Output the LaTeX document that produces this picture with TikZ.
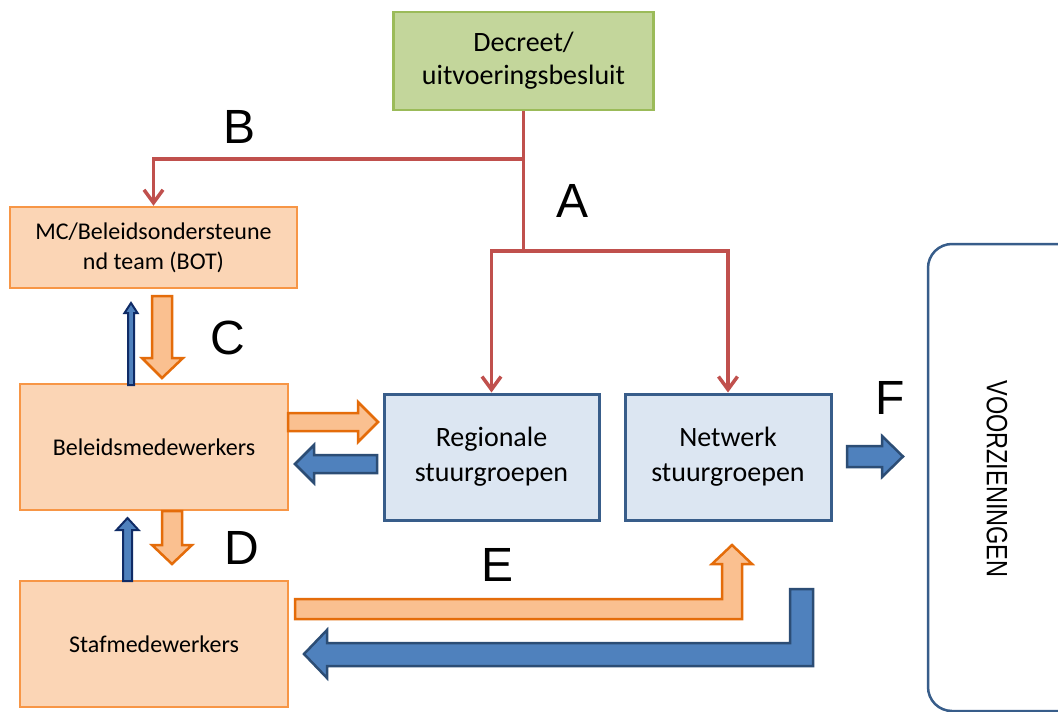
\documentclass[tikz,border=0pt]{standalone}
\usepackage{fontspec}
\setmainfont{Carlito}
\newfontfamily\arialfont{Liberation Sans}
\usetikzlibrary{arrows.meta}
\definecolor{obfill}{HTML}{FBD5B5}
\definecolor{obdraw}{HTML}{F79646}
\definecolor{oafill}{HTML}{FAC090}
\definecolor{oadraw}{HTML}{E46C0A}
\definecolor{bbfill}{HTML}{DCE6F2}
\definecolor{bbdraw}{HTML}{385D8A}
\definecolor{bafill}{HTML}{4F81BD}
\definecolor{badraw}{HTML}{2C4D75}
\definecolor{navy}{HTML}{0F2B66}
\definecolor{gbfill}{HTML}{C3D69B}
\definecolor{gbdraw}{HTML}{9BBB59}
\definecolor{redl}{HTML}{C0504D}
\begin{document}
\begin{tikzpicture}[x=1pt,y=-1pt,
  basebox/.style={rectangle, inner sep=0pt, align=center, line width=2.5pt},
  greenbox/.style={basebox, fill=gbfill, draw=gbdraw, font=\fontsize{28}{33}\selectfont},
  orangebox/.style={basebox, fill=obfill, draw=obdraw, font=\fontsize{24}{30}\selectfont},
  bluebox/.style={basebox, fill=bbfill, draw=bbdraw, line width=3pt, font=\fontsize{28}{35}\selectfont},
  redarrow/.style={draw=redl, line width=3.5pt, -{Straight Barb[length=13pt,width=19pt]}},
  redline/.style={draw=redl, line width=3.5pt},
  oarrow/.style={fill=oafill, draw=oadraw, line width=2.5pt, line join=miter},
  barrow/.style={fill=bafill, draw=badraw, line width=2.5pt, line join=miter},
  thinarrow/.style={fill=bafill, draw=navy, line width=2pt, line join=miter},
  letter/.style={inner sep=0pt, font=\arialfont\fontsize{48}{48}\selectfont},
]
\useasboundingbox (0,0) rectangle (1058,712);
\fill[white] (0,0) rectangle (1058,712);

% boxes
\node[greenbox, minimum width=260, minimum height=98] (dec) at (523.5,61) {Decreet/\\uitvoeringsbesluit};
\node[orangebox, minimum width=287, minimum height=81] (mc) at (153.5,247.5) {MC/Beleidsondersteune\\nd team (BOT)};
\node[orangebox, minimum width=268, minimum height=126] (bel) at (154,447) {Beleidsmedewerkers};
\node[orangebox, minimum width=268, minimum height=126] (staf) at (154,644) {Stafmedewerkers};
\node[bluebox, minimum width=215, minimum height=126] (reg) at (491.5,457) {Regionale\\stuurgroepen};
\node[bluebox, minimum width=206, minimum height=126] (net) at (728,457) {Netwerk\\stuurgroepen};

% VOORZIENINGEN box
\begin{scope}
\clip (0,0) rectangle (1058,712);
\draw[draw=bbdraw, line width=2.5pt, rounded corners=24pt, fill=white] (928,244) rectangle (1085,711);
\end{scope}
\node[rotate=-90, inner sep=0pt, font=\arialfont\fontsize{23.5}{23.5}\selectfont] (vz) at (997,479) {\scalebox{1}[1.25]{VOORZIENINGEN}};

% red connectors
\coordinate (jB) at (dec.south |- 0,159);
\coordinate (jA) at (dec.south |- 0,251);
\draw[redline] (dec.south) -- (jA);
\draw[redarrow] (jB) -| (mc.north);
\draw[redarrow] (jA) -| (reg.north);
\draw[redarrow] (jA) -| (net.north);

% block arrows
\draw[oarrow] (152,296) -- (172,296) -- (172,358) -- (183,358) -- (162,378) -- (142,358) -- (152,358) -- cycle;
\draw[thinarrow] (128,385) -- (128,313) -- (124.5,313) -- (131,303) -- (137.5,313) -- (134,313) -- (134,385) -- cycle;
\draw[oarrow] (288,413) -- (358,413) -- (358,402) -- (378,422) -- (358,442) -- (358,431) -- (288,431) -- cycle;
\draw[barrow] (377,455) -- (314,455) -- (314,445) -- (295,464) -- (314,483) -- (314,473) -- (377,473) -- cycle;
\draw[oarrow] (162,511) -- (182,511) -- (182,545) -- (192,545) -- (172,564) -- (152,545) -- (162,545) -- cycle;
\draw[thinarrow] (123,581) -- (123,530) -- (116.5,530) -- (127.5,518) -- (138.5,530) -- (132,530) -- (132,581) -- cycle;
\draw[oarrow] (295,599) -- (722,599) -- (722,564) -- (712,564) -- (732,545) -- (752,564) -- (742,564) -- (742,619) -- (295,619) -- cycle;
\draw[barrow] (813,589) -- (813,666) -- (327,666) -- (327,678) -- (304,654) -- (327,630) -- (327,643) -- (790,643) -- (790,589) -- cycle;
\draw[barrow] (847,446) -- (882,446) -- (882,436) -- (903,456.5) -- (882,477) -- (882,467) -- (847,467) -- cycle;

% letters
\node[letter] (lB) at (240,127) {B};
\node[letter] (lA) at (573,201) {A};
\node[letter] (lC) at (228,338) {C};
\node[letter] (lD) at (242,548) {D};
\node[letter] (lE) at (498,565) {E};
\node[letter] (lF) at (890,398) {F};
\end{tikzpicture}
\end{document}
